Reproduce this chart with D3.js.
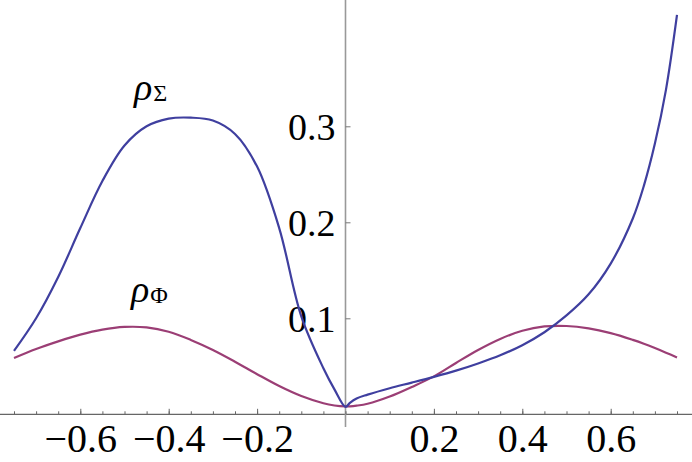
<!DOCTYPE html>
<html lang="en">
<head>
<meta charset="utf-8">
<title>rho curves</title>
<script src="https://cdn.jsdelivr.net/npm/d3@7"></script>
<style>
  body { margin: 0; background: #fff; }
  svg { display: block; }
</style>
</head>
<body>
<script>
var w = 692;
var h = 462;
var serif = "Liberation Serif";

// values
var xs = [-0.75, -0.70, -0.65, -0.60, -0.55, -0.50, -0.45, -0.40, -0.35, -0.30, -0.25, -0.20, -0.15, -0.10, -0.05, -0.025,
          0, 0.01, 0.025, 0.05, 0.10, 0.15, 0.20, 0.25, 0.30, 0.35, 0.40, 0.45, 0.50, 0.55, 0.60, 0.65, 0.675, 0.70, 0.725, 0.75];
var rhoSigma = [0.066, 0.100, 0.143, 0.194, 0.243, 0.280, 0.300, 0.308, 0.309, 0.306, 0.292, 0.258, 0.194, 0.102, 0.048, 0.026,
                0.0078, 0.012, 0.0165, 0.0205, 0.0272, 0.033, 0.039, 0.0455, 0.053, 0.0615, 0.072, 0.0855, 0.103, 0.125, 0.157, 0.204, 0.238, 0.282, 0.338, 0.416];
var rhoPhi = [0.0586, 0.068, 0.076, 0.083, 0.0882, 0.091, 0.0905, 0.086, 0.0775, 0.067, 0.0548, 0.0418, 0.0294, 0.019, 0.0115, 0.0092,
              0.0082, 0.0083, 0.009, 0.011, 0.0185, 0.0285, 0.0395, 0.0535, 0.067, 0.0785, 0.087, 0.0915, 0.092, 0.0895, 0.0845, 0.0775, 0.0735, 0.069, 0.0642, 0.0592];

var xMajor = [-0.6, -0.4, -0.2, 0.2, 0.4, 0.6];
var xMinor = d3.range(-15, 16).map(function(i) { return i * 0.05; });
var yMajor = [0.1, 0.2, 0.3];

var xScale = d3.scaleLinear().domain([-0.75, 0.75]).range([14, 677]);
var yScale = d3.scaleLinear().domain([0, 0.4]).range([414.3, 30.3]);

var fmt = function(d) { return d3.format(".1f")(d).replace("-", "\u2212"); };

var svg = d3.select("body").append("svg")
            .attr("width", w)
            .attr("height", h);

// axes lines
svg.append("line")
   .attr("x1", 0).attr("x2", w)
   .attr("y1", yScale(0)).attr("y2", yScale(0))
   .attr("stroke", "#666").attr("stroke-width", 1.2);

svg.append("line")
   .attr("x1", xScale(0)).attr("x2", xScale(0))
   .attr("y1", 0).attr("y2", 427)
   .attr("stroke", "#999").attr("stroke-width", 1.6);

// x minor ticks
var xMinorAxis = d3.axisBottom(xScale).tickValues(xMinor).tickSize(-3).tickFormat("");
svg.append("g")
   .attr("transform", "translate(0," + yScale(0) + ")")
   .call(xMinorAxis)
   .call(function(g) {
     g.select(".domain").remove();
     g.selectAll(".tick line").attr("stroke", "#666");
   });

// x major ticks + labels
var xAxis = d3.axisBottom(xScale).tickValues(xMajor).tickSize(-5.5).tickFormat(fmt);
svg.append("g")
   .attr("transform", "translate(0," + yScale(0) + ")")
   .call(xAxis)
   .call(function(g) {
     g.select(".domain").remove();
     g.selectAll(".tick line").attr("stroke", "#666");
     g.selectAll(".tick text")
      .style("font-family", serif)
      .attr("font-size", 40)
      .attr("y", 38)
      .attr("dy", 0);
   });

// y ticks + labels
var yAxis = d3.axisRight(yScale).tickValues(yMajor).tickSize(5).tickFormat(fmt);
svg.append("g")
   .attr("transform", "translate(" + xScale(0) + ",0)")
   .call(yAxis)
   .call(function(g) {
     g.select(".domain").remove();
     g.selectAll(".tick line").attr("stroke", "#777");
     g.selectAll(".tick text")
      .style("font-family", serif)
      .attr("font-size", 38)
      .attr("text-anchor", "end")
      .attr("x", -10)
      .attr("dy", "0.34em");
   });

var line = function(vals) {
  return d3.line()
    .x(function(d, i) { return xScale(xs[i]); })
    .y(function(d) { return yScale(d); })
    .curve(d3.curveCatmullRom.alpha(0.5))(vals);
};

svg.append("path")
   .attr("d", line(rhoPhi))
   .attr("fill", "none")
   .attr("stroke", "#9b3e75")
   .attr("stroke-width", 2.2);

svg.append("path")
   .attr("d", line(rhoSigma))
   .attr("fill", "none")
   .attr("stroke", "#3f3f9f")
   .attr("stroke-width", 2.2);

// curve labels
var labels = [
  { x: 134, y: 100, sub: "\u03A3" },
  { x: 131, y: 302, sub: "\u03A6" }
];
labels.forEach(function(l) {
  var t = svg.append("text")
             .attr("x", l.x).attr("y", l.y)
             .style("font-family", serif);
  t.append("tspan").attr("font-style", "italic").attr("font-size", 38).text("\u03C1");
  t.append("tspan").attr("font-size", 24).attr("dy", 1).attr("dx", 1).text(l.sub);
});
</script>
</body>
</html>
